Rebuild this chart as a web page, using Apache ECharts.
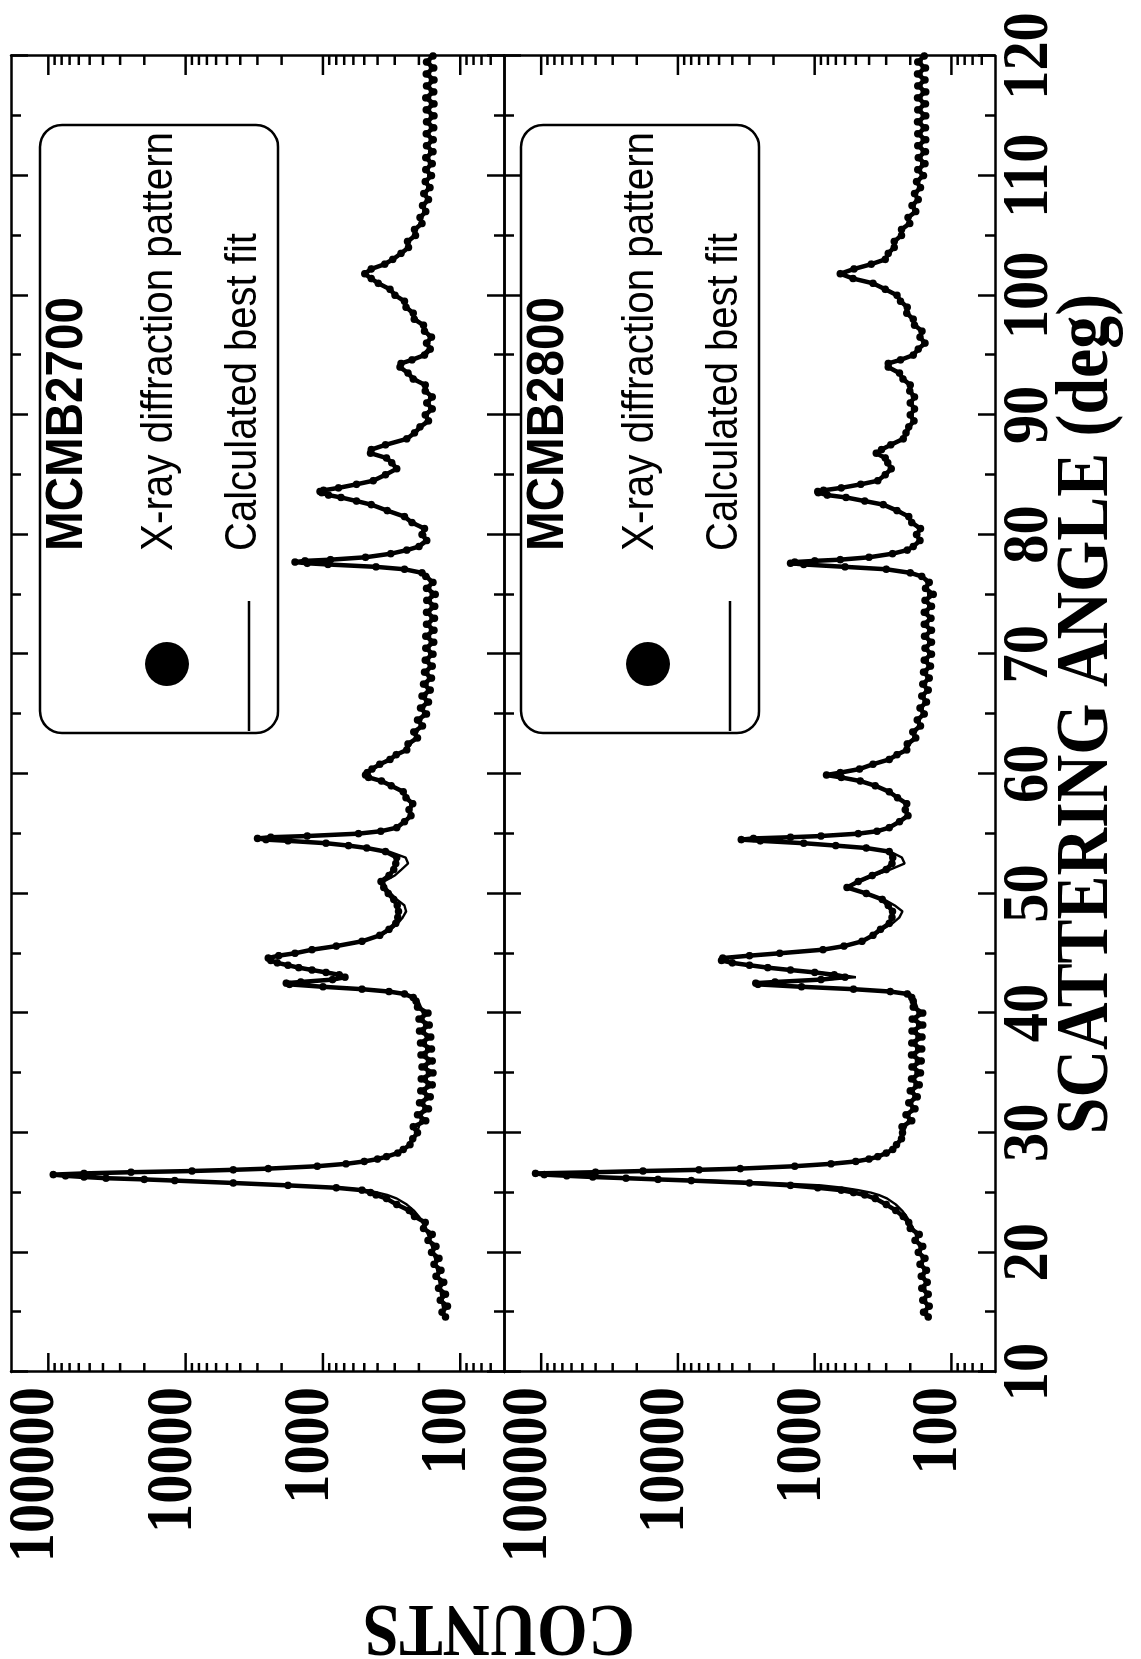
<!DOCTYPE html>
<html>
<head>
<meta charset="utf-8">
<script src="https://cdn.jsdelivr.net/npm/echarts@6/dist/echarts.min.js"></script>
<style>
html,body{margin:0;padding:0;background:#fff;overflow:hidden;width:1141px;height:1659px;}
#wrap{position:absolute;left:0;top:0;width:1659px;height:1141px;transform-origin:0 0;transform:translate(0px,1659px) rotate(-90deg);}
#chart{width:1659px;height:1141px;}
</style>
</head>
<body>
<div id="wrap"><div id="chart"></div></div>
<script>
// ---------------- DATA ----------------
const sampleNames = ['MCMB2700', 'MCMB2800'];
const legendLabels = ['X-ray diffraction pattern', 'Calculated best fit'];
const axisTitles = ['SCATTERING ANGLE (deg)', 'COUNTS'];
const angleTicks = [10, 20, 30, 40, 50, 60, 70, 80, 90, 100, 110, 120];
const countTicks = [100, 1000, 10000, 100000];
const countMinorTicks = [60, 70, 80, 90, 200, 300, 400, 500, 600, 700, 800, 900,
  2000, 3000, 4000, 5000, 6000, 7000, 8000, 9000, 20000, 30000, 40000, 50000, 60000, 70000, 80000, 90000];
const angleRange = [10, 120];
const countRange = [48, 187000];

const scanAngles = [
  14.6, 15, 15.5, 16, 16.5, 17, 17.5, 18, 18.5, 19, 19.5, 20, 20.5, 21, 21.5, 22, 22.5, 23, 23.5, 24, 24.5,
  24.8, 25, 25.2, 25.4, 25.6, 25.8, 26, 26.1, 26.2, 26.3, 26.4, 26.5, 26.6, 26.7, 26.8, 26.9, 27, 27.2, 27.4, 27.6, 27.8, 28, 28.3, 28.6, 29, 29.5, 30,
  30.5, 31, 31.5, 32, 32.5, 33, 33.5, 34, 34.5, 35, 35.5, 36, 36.5, 37, 37.5, 38, 38.5, 39, 39.5, 40, 40.5, 41,
  41.3, 41.6, 41.8, 42, 42.2, 42.4, 42.5, 42.6, 42.8, 43, 43.2, 43.4, 43.6, 43.8, 44, 44.2, 44.4, 44.6, 44.8, 45, 45.3, 45.6, 46,
  46.5, 47, 47.5, 48, 48.5, 49, 49.5, 50, 50.5, 51, 51.5, 52, 52.5, 53, 53.5,
  53.8, 54, 54.2, 54.4, 54.5, 54.6, 54.7, 54.8, 55, 55.2, 55.5,
  56, 56.5, 57, 57.5, 58, 58.5, 59, 59.4, 59.7, 59.9, 60.1, 60.4, 60.8, 61.2, 61.6, 62,
  62.5, 63, 63.5, 64, 64.5, 65, 65.5, 66, 66.5, 67, 67.5, 68, 68.5, 69, 69.5, 70, 70.5, 71, 71.5, 72, 72.5, 73, 73.5, 74, 74.5, 75, 75.5, 76, 76.5,
  76.8, 77.1, 77.3, 77.5, 77.6, 77.7, 77.8, 77.9, 78.1, 78.4, 78.7, 79,
  79.5, 80, 80.5, 81, 81.5, 82, 82.5, 82.8, 83.1, 83.3, 83.5, 83.6, 83.7, 83.9, 84.2, 84.5, 85, 85.5, 86, 86.4, 86.8, 87.1, 87.5, 88, 88.5,
  89, 89.5, 90, 90.5, 91, 91.5, 92, 92.5, 93, 93.5, 94, 94.3, 94.6, 95,
  95.5, 96, 96.5, 97, 97.5, 98, 98.5, 99, 99.5, 100, 100.5, 101, 101.4, 101.8, 102.2, 102.6, 103,
  103.5, 104, 104.5, 105, 105.5, 106, 106.5, 107, 107.5, 108, 108.5, 109, 109.5, 110, 110.5, 111, 111.5, 112, 112.5, 113, 113.5, 114, 114.5, 115, 115.5, 116, 116.5, 117, 117.5, 118, 118.5, 119, 119.5, 120
];

const obs2700 = [
  128, 136, 124, 140, 128, 144, 132, 150, 138, 155, 143, 162, 150, 172, 160, 185, 180, 215, 235, 290, 345,
  410, 450, 520, 800, 1800, 4500, 12000, 20000, 38000, 55000, 75000, 92000, 55000, 25000, 9000, 4500, 2500, 1100, 680, 500, 400, 345, 285, 260, 232, 222, 205,
  220, 178, 205, 170, 198, 165, 194, 160, 192, 158, 190, 160, 193, 162, 195, 164, 198, 168, 200, 172, 205, 210,
  220, 255, 330, 520, 1000, 1750, 1850, 1450, 850, 690, 760, 950, 1200, 1500, 1800, 2150, 2400, 2500, 2100, 1600, 1200, 800, 520,
  385, 330, 295, 285, 282, 288, 305, 335, 360, 378, 330, 305, 295, 290, 350,
  480, 650, 950, 1800, 2600, 3000, 2400, 1300, 550, 380, 290,
  255, 228, 236, 222, 248, 260, 318, 375, 465, 490, 475, 440, 385, 325, 292, 245,
  240, 205, 218, 188, 205, 176, 195, 170, 190, 165, 185, 162, 182, 160, 180, 158, 178, 156, 178, 155, 176, 154, 176, 153, 175, 152, 176, 158, 178,
  190, 255, 410, 920, 1300, 1600, 1350, 880, 490, 320, 245, 200,
  175, 190, 182, 225, 255, 340, 445, 570, 740, 910, 1020, 1050, 990, 770, 570, 430, 350, 290, 315, 345, 450, 445, 350, 245, 215,
  196, 170, 180, 160, 175, 160, 180, 180, 220, 240, 275, 270, 225, 182,
  165, 176, 162, 182, 185, 216, 220, 248, 255, 298, 325, 395, 445, 495, 445, 355, 310,
  270, 238, 242, 212, 215, 190, 196, 178, 188, 170, 184, 166, 180, 162, 178, 160, 178, 158, 176, 157, 177, 156, 176, 155, 177, 155, 178, 156, 176, 155, 177, 156, 176, 158
];

const fit2700 = [
  132, 133, 134, 136, 138, 140, 142, 144, 147, 150, 153, 157, 161, 166, 172, 179, 188, 200, 218, 245, 290,
  340, 400, 480, 750, 1700, 4500, 12000, 20000, 38000, 55000, 75000, 92000, 55000, 25000, 9000, 4500, 2500, 1100, 700, 500, 400, 340, 285, 255, 235, 220, 208,
  200, 195, 190, 186, 183, 180, 178, 176, 175, 175, 175, 175, 176, 177, 178, 179, 181, 183, 185, 188, 193, 202,
  215, 250, 320, 500, 950, 1700, 1850, 1500, 820, 670, 720, 900, 1150, 1450, 1800, 2150, 2400, 2500, 2100, 1600, 1150, 780, 520,
  380, 320, 285, 262, 248, 255, 290, 320, 350, 360, 300, 268, 240, 250, 330,
  480, 650, 950, 1800, 2600, 3000, 2400, 1300, 550, 380, 290,
  250, 235, 228, 230, 240, 265, 310, 380, 460, 490, 470, 430, 380, 330, 285, 250,
  228, 215, 205, 198, 192, 187, 183, 180, 177, 175, 173, 172, 171, 170, 169, 168, 167, 167, 166, 166, 165, 165, 165, 164, 164, 164, 165, 166, 170,
  185, 250, 400, 900, 1300, 1600, 1350, 900, 500, 320, 240, 205,
  182, 180, 190, 215, 260, 330, 450, 560, 750, 900, 1030, 1050, 980, 780, 560, 440, 340, 300, 305, 350, 440, 450, 340, 250, 210,
  190, 178, 172, 168, 167, 168, 172, 185, 210, 245, 265, 270, 220, 190,
  172, 168, 170, 176, 190, 208, 225, 240, 260, 290, 330, 390, 450, 495, 440, 360, 305,
  265, 245, 235, 220, 208, 198, 190, 185, 181, 178, 176, 174, 172, 171, 170, 169, 168, 168, 167, 167, 167, 166, 166, 166, 166, 166, 166, 166, 166, 166, 166, 166, 166, 166
];

const obs2800 = [
  148, 160, 145, 162, 148, 165, 150, 166, 152, 170, 156, 175, 162, 185, 172, 200, 205, 225, 255, 300, 360,
  430, 520, 640, 950, 1500, 3000, 8000, 14000, 24000, 42000, 65000, 95000, 110000, 40000, 18000, 7000, 3500, 1400, 760, 500, 400, 345, 300, 268, 252, 232, 228,
  230, 195, 215, 185, 205, 178, 200, 172, 196, 168, 194, 166, 196, 165, 195, 164, 194, 162, 193, 162, 190, 190,
  195, 210, 280, 520, 1250, 2600, 2700, 1950, 900, 600, 720, 1000, 1500, 2200, 3000, 4000, 4800, 4700, 3000, 1800, 870, 610, 450,
  375, 330, 285, 272, 270, 290, 320, 420, 580, 480, 380, 300, 272, 268, 285,
  420, 700, 1200, 2500, 3440, 2800, 1500, 900, 480, 350, 285,
  240, 208, 218, 212, 248, 285, 360, 465, 640, 820, 650, 470, 375, 285, 250, 212,
  210, 182, 192, 168, 178, 158, 170, 152, 165, 148, 162, 145, 160, 142, 158, 140, 156, 140, 157, 140, 158, 141, 158, 140, 156, 136, 155, 145, 165,
  200, 300, 600, 1200, 1500, 1400, 1000, 650, 400, 270, 210, 190,
  170, 180, 168, 195, 205, 250, 315, 430, 590, 810, 940, 950, 860, 640, 460, 345, 305, 275, 292, 305, 355, 325, 278, 225, 215,
  205, 188, 200, 186, 200, 186, 202, 200, 226, 240, 290, 290, 236, 190,
  175, 156, 170, 164, 186, 190, 212, 210, 236, 250, 305, 375, 525, 650, 515, 385, 305,
  290, 262, 262, 232, 232, 202, 208, 182, 194, 175, 186, 168, 180, 160, 176, 156, 175, 155, 176, 154, 176, 155, 177, 154, 176, 155, 177, 154, 176, 156, 177, 155, 176, 158
];

const fit2800 = [
  150, 151, 152, 153, 154, 155, 156, 158, 160, 162, 165, 168, 172, 177, 183, 190, 200, 213, 230, 255, 295,
  340, 390, 480, 620, 900, 2000, 6000, 12000, 22000, 40000, 65000, 95000, 110000, 40000, 18000, 7000, 3500, 1400, 750, 500, 400, 340, 300, 270, 250, 235, 225,
  215, 208, 202, 197, 193, 190, 188, 186, 184, 183, 182, 182, 181, 181, 180, 180, 179, 178, 178, 177, 178, 185,
  190, 200, 270, 500, 1200, 2600, 2700, 2000, 850, 500, 650, 950, 1450, 2200, 3000, 4000, 4800, 4700, 3000, 1800, 850, 600, 450,
  370, 320, 270, 240, 228, 260, 310, 420, 580, 470, 370, 280, 220, 230, 280,
  420, 700, 1200, 2500, 3440, 2800, 1500, 900, 480, 350, 285,
  235, 215, 210, 218, 242, 290, 350, 470, 637, 830, 640, 480, 370, 290, 245, 218,
  200, 190, 182, 175, 170, 165, 162, 160, 157, 155, 153, 152, 151, 150, 149, 148, 148, 148, 148, 148, 148, 148, 148, 148, 148, 148, 149, 152, 162,
  200, 300, 600, 1200, 1500, 1400, 1000, 650, 400, 270, 210, 190,
  175, 172, 175, 190, 210, 240, 320, 420, 600, 800, 950, 950, 850, 650, 450, 350, 300, 280, 285, 310, 350, 330, 270, 230, 210,
  200, 195, 194, 193, 193, 194, 196, 205, 220, 245, 285, 295, 230, 195,
  170, 162, 165, 170, 180, 194, 205, 215, 230, 255, 300, 380, 520, 650, 520, 380, 310,
  285, 270, 255, 240, 225, 210, 200, 190, 186, 182, 178, 175, 172, 168, 167, 166, 165, 165, 165, 165, 165, 165, 165, 165, 165, 165, 165, 165, 165, 165, 165, 165, 165, 165
];

// ---------------- LAYOUT / STYLE ----------------
const BLACK = '#000';
const FRAME_W = 2.5;
const SERIF = '"Liberation Serif", "Times New Roman", serif';
const SANS = '"Liberation Sans", Arial, Helvetica, sans-serif';
const GRID_LEFT = 287, GRID_RIGHT = 56;
const panels = [
  { top: 11, height: 493, obs: obs2700, fit: fit2700, name: sampleNames[0], lg: 0 },
  { top: 504, height: 491, obs: obs2800, fit: fit2800, name: sampleNames[1], lg: 481 }
];

function angleAxis(gi, pos) {
  return {
    type: 'value', gridIndex: gi, position: pos,
    min: angleRange[0], max: angleRange[1], interval: 10,
    axisLine: { show: true, onZero: false, lineStyle: { color: BLACK, width: FRAME_W } },
    axisTick: { show: true, inside: true, length: 17, lineStyle: { color: BLACK, width: FRAME_W } },
    minorTick: { show: true, splitNumber: 2, length: 10, lineStyle: { color: BLACK, width: FRAME_W } },
    axisLabel: { show: false }, splitLine: { show: false }, minorSplitLine: { show: false }
  };
}
function countAxis(gi, pos) {
  return {
    type: 'log', logBase: 10, gridIndex: gi, position: pos,
    min: countRange[0], max: countRange[1],
    axisLine: { show: true, onZero: false, lineStyle: { color: BLACK, width: FRAME_W } },
    axisTick: { show: false }, axisLabel: { show: false }, splitLine: { show: false }, minorTick: { show: false }
  };
}

const tickData = countTicks.map(v => [angleRange[0], v, 19])
  .concat(countMinorTicks.map(v => [angleRange[0], v, 9]));

const grids = [], xAxes = [], yAxes = [], series = [];
panels.forEach((p, i) => {
  grids.push({ left: GRID_LEFT, right: GRID_RIGHT, top: p.top, height: p.height, containLabel: false, outerBoundsMode: 'none' });
  xAxes.push(angleAxis(i, 'bottom'), angleAxis(i, 'top'));
  yAxes.push(countAxis(i, 'left'), countAxis(i, 'right'));
  // measured pattern: dense dots (consecutive dots touch, drawn as a dotted trace)
  series.push({
    type: 'line', name: legendLabels[0], xAxisIndex: 2 * i, yAxisIndex: 2 * i,
    data: scanAngles.map((a, k) => [a, p.obs[k]]),
    showSymbol: true, showAllSymbol: true, symbol: 'circle', symbolSize: 7.5,
    itemStyle: { color: BLACK, opacity: 1 },
    lineStyle: { color: BLACK, width: 4.5 }, smooth: false, z: 2, silent: true
  });
  series.push({
    type: 'line', name: legendLabels[1], xAxisIndex: 2 * i, yAxisIndex: 2 * i,
    data: scanAngles.map((a, k) => [a, p.fit[k]]),
    showSymbol: false, symbol: 'none', smooth: false,
    lineStyle: { color: BLACK, width: 2.4 }, z: 3, silent: true
  });
  series.push({
    type: 'custom', xAxisIndex: 2 * i, yAxisIndex: 2 * i, silent: true, clip: false, z: 4,
    data: tickData,
    renderItem: function (params, api) {
      const v = api.value(1), len = api.value(2);
      const pl = api.coord([angleRange[0], v]);
      const pr = api.coord([angleRange[1], v]);
      return {
        type: 'group', children: [
          { type: 'line', shape: { x1: pl[0], y1: pl[1], x2: pl[0] + len, y2: pl[1] }, style: { stroke: BLACK, lineWidth: FRAME_W } },
          { type: 'line', shape: { x1: pr[0] - len, y1: pr[1], x2: pr[0], y2: pr[1] }, style: { stroke: BLACK, lineWidth: FRAME_W } }
        ]
      };
    }
  });
});

const chart = echarts.init(document.getElementById('chart'), null, { renderer: 'canvas', width: 1659, height: 1141 });
chart.setOption({
  animation: false,
  backgroundColor: '#fff',
  grid: grids, xAxis: xAxes, yAxis: yAxes, series: series
});

function txt(str, x, y, o) {
  const al = o.align || 'center', va = o.va || 'middle';
  return {
    type: 'text', x: x, y: y, scaleX: o.sx || 1, scaleY: 1, rotation: o.rot || 0, silent: true, z: 100,
    style: {
      text: str, fill: BLACK, fontSize: o.size, fontWeight: o.weight || 'normal', fontFamily: o.family,
      align: al, verticalAlign: va, textAlign: al, textVerticalAlign: va
    }
  };
}

const els = [];
panels.forEach((p, i) => {
  const sIdx = 3 * i;
  countTicks.forEach(v => {
    const pt = chart.convertToPixel({ seriesIndex: sIdx }, [angleRange[0], v]);
    els.push(txt(String(v), pt[0] - 15, pt[1] - 12, { size: 66, weight: 'bold', family: SERIF, align: 'right', sx: 0.885 }));
  });
  const d = p.lg;
  els.push({ type: 'rect', silent: true, z: 90, shape: { x: 926, y: 40 + d, width: 608, height: 238, r: 22 },
    style: { fill: 'rgba(0,0,0,0)', stroke: BLACK, lineWidth: 2.5 } });
  els.push(txt(p.name, 1108, 68 + d, { size: 52, weight: 'bold', family: SANS, align: 'left', sx: 0.915 }));
  els.push(txt(legendLabels[0], 1108, 160 + d, { size: 44, family: SANS, align: 'left', sx: 0.918 }));
  els.push(txt(legendLabels[1], 1108, 244 + d, { size: 44, family: SANS, align: 'left', sx: 0.909 }));
  els.push({ type: 'circle', silent: true, z: 95, shape: { cx: 995, cy: 167 + d, r: 22 }, style: { fill: BLACK } });
  els.push({ type: 'line', silent: true, z: 95, shape: { x1: 928, y1: 249 + d, x2: 1058, y2: 249 + d }, style: { stroke: BLACK, lineWidth: 2.5 } });
});
const bottomBase = panels[1].top + panels[1].height;
angleTicks.forEach(a => {
  const pt = chart.convertToPixel({ seriesIndex: 3 }, [a, countRange[0]]);
  els.push(txt(String(a), pt[0], pt[1] + 35, { size: 66, weight: 'bold', family: SERIF, align: 'center', sx: 0.885 }));
});
const midPt = chart.convertToPixel({ seriesIndex: 3 }, [(angleRange[0] + angleRange[1]) / 2, countRange[0]]);
els.push(txt(axisTitles[0], midPt[0], bottomBase + 93, { size: 74, weight: 'bold', family: SERIF, align: 'center', sx: 0.89 }));
els.push(txt(axisTitles[1], 34, (panels[0].top + bottomBase) / 2 - 4, { size: 75, weight: 'bold', family: SERIF, align: 'center', sx: 0.87, rot: Math.PI / 2 }));

chart.setOption({ graphic: { elements: els } });
</script>
</body>
</html>
